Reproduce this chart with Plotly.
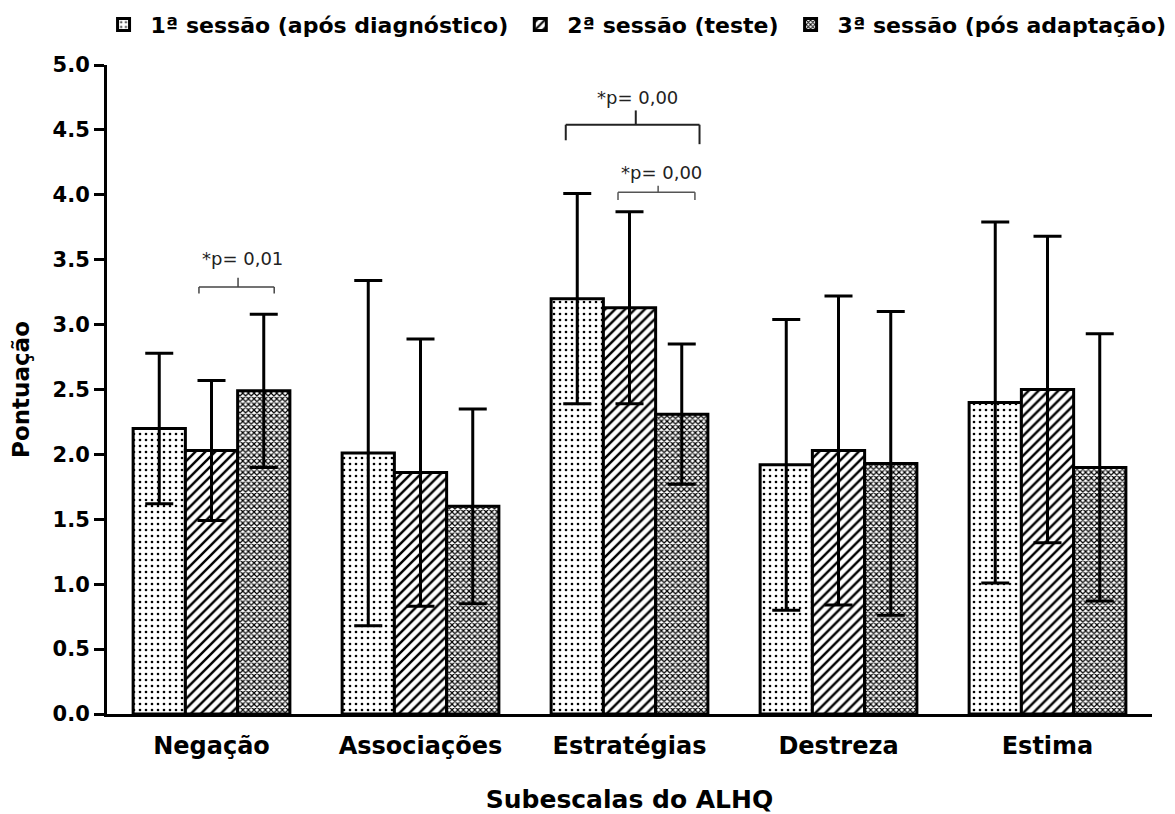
import plotly.graph_objects as go

categories = ["Negação", "Associações", "Estratégias", "Destreza", "Estima"]
series_names = ["1ª sessão (após diagnóstico)", "2ª sessão (teste)", "3ª sessão (pós adaptação)"]
means_s1 = [2.20, 2.01, 3.20, 1.92, 2.40]
sd_s1 = [0.58, 1.33, 0.81, 1.12, 1.39]
means_s2 = [2.03, 1.86, 3.13, 2.03, 2.50]
sd_s2 = [0.54, 1.03, 0.74, 1.19, 1.18]
means_s3 = [2.49, 1.60, 2.31, 1.93, 1.90]
sd_s3 = [0.59, 0.75, 0.54, 1.17, 1.03]
y_ticks = [0.0, 0.5, 1.0, 1.5, 2.0, 2.5, 3.0, 3.5, 4.0, 4.5, 5.0]

patterns = [
    dict(shape=".", size=6, solidity=0.15, fgcolor="black", fgopacity=1, bgcolor="white", fillmode="overlay"),
    dict(shape="/", size=7, solidity=0.35, fgcolor="black", fgopacity=1, bgcolor="white", fillmode="overlay"),
    dict(shape="x", size=4, solidity=0.5, fgcolor="black", fgopacity=1, bgcolor="white", fillmode="overlay"),
]

fig = go.Figure()
for name, m, s, pat in zip(series_names, [means_s1, means_s2, means_s3],
                           [sd_s1, sd_s2, sd_s3], patterns):
    fig.add_trace(go.Bar(
        x=categories, y=m, name=name,
        marker=dict(color="white", line=dict(color="black", width=3), pattern=pat),
        error_y=dict(type="data", array=s, visible=True, color="black", thickness=3, width=14),
    ))

def bracket(x0, x1, y, yl, yr, xc, ytop, color, width):
    for (a, b, c, d) in [(x0, x1, y, y), (x0, x0, y, yl), (x1, x1, y, yr), (xc, xc, y, ytop)]:
        fig.add_shape(type="line", x0=a, x1=b, y0=c, y1=d, xref="x", yref="y",
                      line=dict(color=color, width=width))

bracket(-0.06, 0.30, 3.29, 3.24, 3.24, 0.127, 3.36, "#444", 1.5)
bracket(1.695, 2.335, 4.54, 4.42, 4.39, 2.03, 4.65, "#222", 2)
bracket(1.945, 2.313, 4.02, 3.96, 3.96, 2.137, 4.07, "#555", 1.5)

ann_font = dict(family="DejaVu Sans", size=18, color="#222")
fig.add_annotation(x=0.146, y=3.51, text="*p= 0,01", showarrow=False, font=ann_font, xref="x", yref="y")
fig.add_annotation(x=2.036, y=4.75, text="*p= 0,00", showarrow=False, font=ann_font, xref="x", yref="y")
fig.add_annotation(x=2.155, y=4.17, text="*p= 0,00", showarrow=False, font=ann_font, xref="x", yref="y")

fig.update_layout(
    width=1167, height=806,
    margin=dict(l=99, r=23, t=57, b=100, autoexpand=False),
    paper_bgcolor="white", plot_bgcolor="white",
    barmode="group", bargap=0.25, bargroupgap=0,
    showlegend=True,
    legend=dict(orientation="h", x=-0.01, xanchor="left", y=1.062, yanchor="middle",
                font=dict(family="DejaVu Sans", size=22, color="black", weight="bold"),
                itemwidth=44, tracegroupgap=0, bgcolor="rgba(0,0,0,0)"),
    xaxis=dict(
        range=[-0.5, 4.5], showline=True, linecolor="black", linewidth=3,
        ticks="", showgrid=False, zeroline=False, automargin=False,
        ticklabelstandoff=8,
        tickfont=dict(family="DejaVu Sans", size=24, color="black", weight="bold"),
        title=dict(text="Subescalas do ALHQ", standoff=32,
                   font=dict(family="DejaVu Sans", size=25, color="black", weight="bold")),
    ),
    yaxis=dict(
        range=[0, 5], tickvals=y_ticks, tickformat=".1f",
        showline=True, linecolor="black", linewidth=3,
        ticks="outside", ticklen=10, tickwidth=3, tickcolor="black",
        showgrid=False, zeroline=False, automargin=False,
        tickfont=dict(family="DejaVu Sans", size=21, color="black", weight="bold"),
        title=dict(text="Pontuação", standoff=20,
                   font=dict(family="DejaVu Sans", size=23, color="black", weight="bold")),
    ),
)

fig.write_html("out.html")
